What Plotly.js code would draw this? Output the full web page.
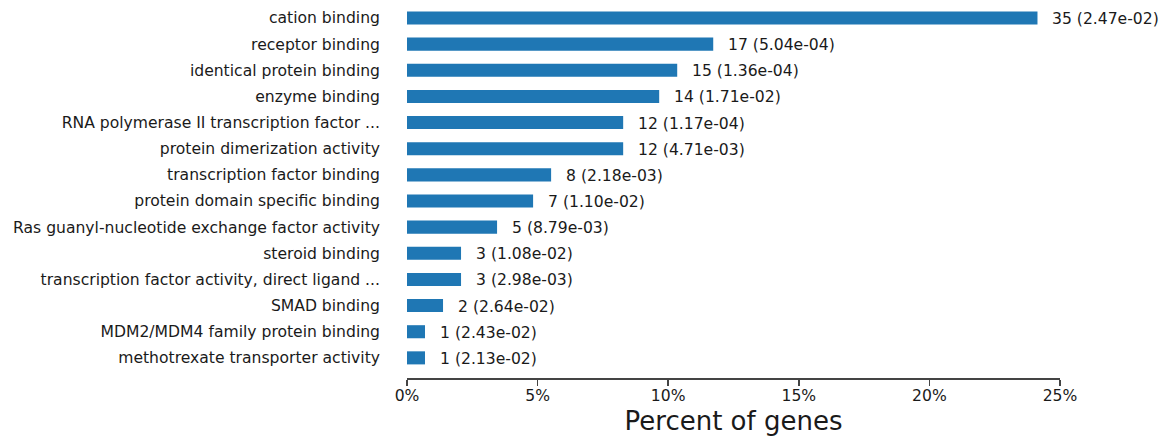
<!DOCTYPE html>
<html>
<head>
<meta charset="utf-8">
<script src="https://cdn.plot.ly/plotly-3.0.1.min.js"></script>
<style>html,body{margin:0;padding:0;background:#fff;}#chart{width:1164px;height:436px;}</style>
</head>
<body>
<div id="chart"></div>
<script>
const terms = [
  "cation binding",
  "receptor binding",
  "identical protein binding",
  "enzyme binding",
  "RNA polymerase II transcription factor ...",
  "protein dimerization activity",
  "transcription factor binding",
  "protein domain specific binding",
  "Ras guanyl-nucleotide exchange factor activity",
  "steroid binding",
  "transcription factor activity, direct ligand ...",
  "SMAD binding",
  "MDM2/MDM4 family protein binding",
  "methotrexate transporter activity"
];
const geneCounts = [35, 17, 15, 14, 12, 12, 8, 7, 5, 3, 3, 2, 1, 1];
const pValues = ["2.47e-02","5.04e-04","1.36e-04","1.71e-02","1.17e-04","4.71e-03","2.18e-03","1.10e-02","8.79e-03","1.08e-02","2.98e-03","2.64e-02","2.43e-02","2.13e-02"];
const totalGenes = 145;
const xTickValues = [0, 5, 10, 15, 20, 25];
const xTickLabels = ["0%", "5%", "10%", "15%", "20%", "25%"];

const percents = geneCounts.map(c => c / totalGenes * 100);
const font = "DejaVu Sans, sans-serif";
const textColor = "#1a1a1a";

const trace = {
  type: "bar",
  orientation: "h",
  x: percents,
  y: terms,
  marker: {color: "#1f77b4", line: {width: 0}},
  width: 0.5,
  hoverinfo: "none"
};

const annotations = terms.map((t, i) => ({
  x: percents[i],
  y: t,
  xref: "x",
  yref: "y",
  text: geneCounts[i] + " (" + pValues[i] + ")",
  showarrow: false,
  xanchor: "left",
  yanchor: "middle",
  xshift: 13,
  yshift: -1,
  font: {family: font, size: 15.6, color: textColor}
}));

const layout = {
  width: 1164,
  height: 436,
  margin: {l: 407, r: 104, t: 1, b: 58},
  paper_bgcolor: "#fff",
  plot_bgcolor: "#fff",
  showlegend: false,
  font: {family: font, size: 15.6, color: textColor},
  xaxis: {
    range: [0, 25],
    tickvals: xTickValues,
    ticktext: xTickLabels,
    showgrid: false,
    zeroline: false,
    showline: true,
    linecolor: "#444",
    linewidth: 1.5,
    ticks: "outside",
    ticklen: 6,
    tickwidth: 1.5,
    tickcolor: "#444",
    ticklabelstandoff: -3,
    tickfont: {family: font, size: 15.6, color: textColor},
    title: {text: "Percent of genes", font: {family: font, size: 26, color: textColor}, standoff: 12},
    fixedrange: true
  },
  yaxis: {
    type: "category",
    range: [13.77, -0.65],
    showgrid: false,
    zeroline: false,
    showline: false,
    ticks: "",
    ticklabelstandoff: 26,
    tickfont: {family: font, size: 15.6, color: textColor},
    fixedrange: true
  },
  annotations: annotations
};

Plotly.newPlot("chart", [trace], layout, {displayModeBar: false, staticPlot: true});
</script>
</body>
</html>
